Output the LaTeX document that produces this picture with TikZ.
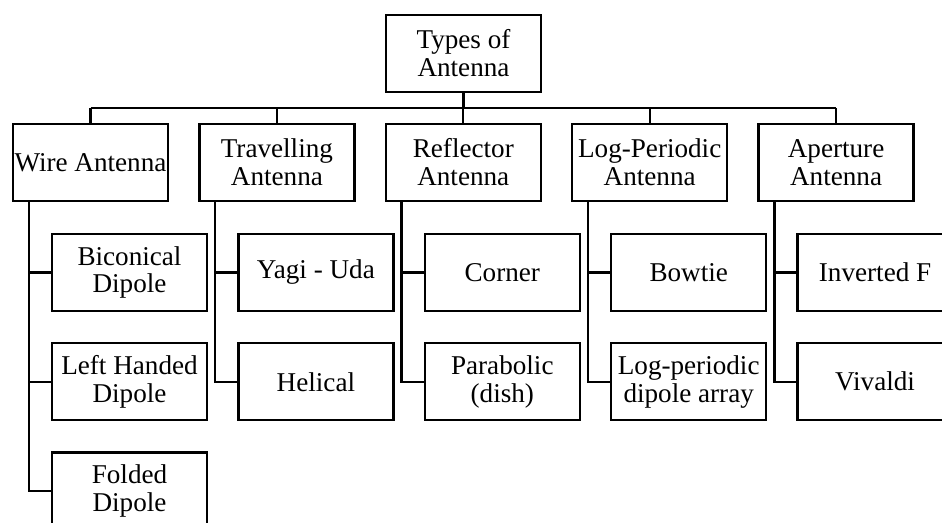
\documentclass[tikz,border=0pt]{standalone}
\usepackage{fontspec}
\setmainfont{Liberation Serif}
\usepackage{tikz}
\usetikzlibrary{calc}
\newcommand{\antfont}{\fontsize{19.3}{19.8}\selectfont}

\begin{document}
\begin{tikzpicture}[x=0.025cm, y=-0.025cm,
    box/.style={draw, line width=1.7pt, minimum width=3.875cm, minimum height=1.925cm,
        inner sep=1pt, align=center, font=\antfont},
    link/.style={line width=1.7pt}]
    \useasboundingbox (0,0) rectangle (942,523);
    % Root
    \node[box] (root) at (463.5,53.5) {Types of\\Antenna};
    % Main types
    \foreach \n/\t [count=\i from 0] in {wire/Wire Antenna, trav/Travelling\\Antenna,
        refl/Reflector\\Antenna, logp/Log-Periodic\\Antenna, aper/Aperture\\Antenna} {
        \node[box] (\n) at (90.5+186.4*\i,162.5) {\t};
    }
    \coordinate (bus) at (463.5,108);
    \draw[link] (root.south) -- (bus);
    \draw[link] (wire.north |- bus) -- (aper.north |- bus);
    \foreach \n in {wire,trav,refl,logp,aper} {
        \draw[link] (\n.north |- bus) -- (\n.north);
    }
    % Sub types
    \foreach \p/\k/\t in {wire/1/Biconical\\Dipole, wire/2/Left Handed\\Dipole, wire/3/Folded\\Dipole,
        trav/1/Yagi - Uda, trav/2/Helical, refl/1/Corner, refl/2/Parabolic\\(dish),
        logp/1/Bowtie, logp/2/Log-periodic\\dipole array, aper/1/Inverted F, aper/2/Vivaldi} {
        \pgfmathsetmacro\yy{272.5+109.25*(\k-1)}
        \node[box] (\p\k) at ($(\p |- 0,\yy)+(39,0)$) {\t};
        \draw[link] ([xshift=0.425cm]\p.south west) |- (\p\k.west);
    }
\end{tikzpicture}
\end{document}
